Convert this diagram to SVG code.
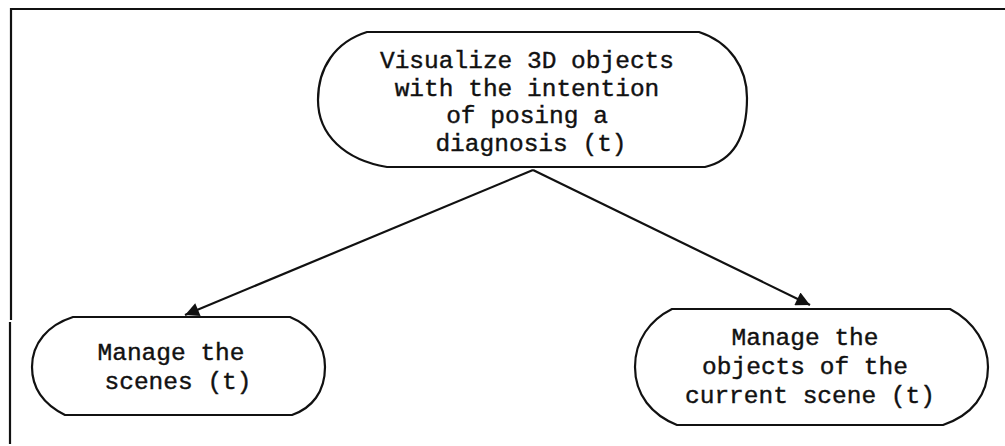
<svg xmlns="http://www.w3.org/2000/svg" width="1005" height="446" viewBox="0 0 1005 446">
<style>
.frame{fill:none;stroke:#111;stroke-width:2.2}
.node{fill:none;stroke:#111;stroke-width:2.2}
.lbl{font-family:"Liberation Mono","Courier New",monospace;font-size:24.5px;fill:#111;stroke:#111;stroke-width:0.4;text-anchor:middle}
.conn{fill:none;stroke:#111;stroke-width:2.2}
</style>
<defs>
<marker id="ah" viewBox="0 0 10 10" refX="10" refY="5" markerWidth="16" markerHeight="14" markerUnits="userSpaceOnUse" orient="auto">
<path d="M0,0 L10,5 L0,10 z" fill="#111"/>
</marker>
</defs>
<g id="frame">
<line class="frame" x1="10" y1="9" x2="1005" y2="9"/>
<line class="frame" x1="11" y1="8" x2="11" y2="320"/>
<line class="frame" x1="10" y1="322" x2="10" y2="444"/>
</g>
<g id="connectors">
<line class="conn" x1="533" y1="170" x2="185" y2="315" marker-end="url(#ah)"/>
<line class="conn" x1="533" y1="170" x2="810" y2="305" marker-end="url(#ah)"/>
</g>
<g id="node-top">
<path class="node" d="M367,32 L699,32 C730,42 747,68 747,98 C747,135 735,160 705,167 L387,167 C345,160 318,135 318,100 C318,68 335,42 367,32 Z"/>
<text class="lbl" x="527" y="68">Visualize 3D objects</text>
<text class="lbl" x="527" y="96">with the intention</text>
<text class="lbl" x="527" y="123">of posing a</text>
<text class="lbl" x="531" y="151">diagnosis (t)</text>
</g>
<g id="node-scenes">
<path class="node" d="M73,317 L290,317 C312,326 325,345 325,367 C325,392 312,408 292,415 L65,415 C45,405 32,390 32,367 C32,343 48,325 73,317 Z"/>
<text class="lbl" x="171" y="360">Manage the</text>
<text class="lbl" x="178" y="389">scenes (t)</text>
</g>
<g id="node-objects">
<path class="node" d="M672,309 L950,309 C975,322 988,345 988,367 C988,395 972,415 943,425 L677,425 C652,415 635,395 635,367 C635,340 650,320 672,309 Z"/>
<text class="lbl" x="805" y="345">Manage the</text>
<text class="lbl" x="805" y="374">objects of the</text>
<text class="lbl" x="810" y="403">current scene (t)</text>
</g>
</svg>
